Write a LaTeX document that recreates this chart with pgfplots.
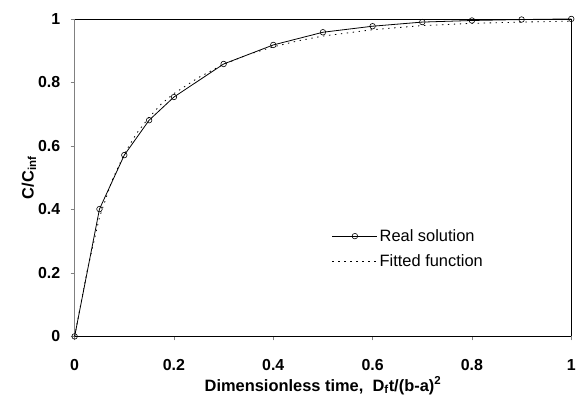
\documentclass[border=0pt]{standalone}
\usepackage{pgfplots}
\pgfplotsset{compat=1.18}
\usepackage{fontspec}
\setmainfont{Liberation Sans}
\begin{document}
\begin{tikzpicture}
\begin{axis}[
    scale only axis,
    width=499pt, height=319pt,
    xmin=0, xmax=1, ymin=0, ymax=1,
    axis x line*=bottom, axis y line*=left,
    x axis line style={black, line width=0.8pt, -},
    y axis line style={gray, line width=0.8pt, -},
    tick align=outside,
    major tick length=4pt,
    xtick={0,0.2,...,1}, ytick={0,0.2,...,1},
    tick style={gray, line width=0.6pt},
    xticklabels={0,0.2,0.4,0.6,0.8,1},
    yticklabels={0,0.2,0.4,0.6,0.8,1},
    ticklabel style={font=\fontsize{16}{18}\selectfont\bfseries},
    xticklabel style={yshift=-16pt},
    yticklabel style={xshift=-7pt},
    xlabel={\textbf{Dimensionless time,\ \ D\textsubscript{f}t/(b-a)\textsuperscript{2}}},
    ylabel={\textbf{C/C\textsubscript{inf}}},
    label style={font=\fontsize{16.5}{18}\selectfont},
    xlabel style={yshift=1pt},
    ylabel style={yshift=-5pt},
    legend style={draw=none, fill=none, at={(0.512,0.35)}, anchor=north west,
        font=\fontsize{16.5}{18}\selectfont, row sep=8pt,
        legend cell align=left},
    legend image code/.code={
        \draw[mark repeat=2, mark phase=2, #1] plot coordinates {(0pt,0pt) (22.5pt,0pt) (45pt,0pt)};},
    clip=false,
]
\coordinate (O) at (rel axis cs:0,0);
\addplot[black, line width=0.8pt, mark=o, mark size=2.8pt,
    mark options={fill=white, line width=0.6pt, solid}] coordinates {
    (0,0) (0.05,0.401) (0.1,0.571) (0.15,0.681) (0.2,0.754)
    (0.3,0.858) (0.4,0.918) (0.5,0.958) (0.6,0.977) (0.7,0.990)
    (0.8,0.995) (0.9,0.998) (1.0,1.0)
};
\addlegendentry{Real solution}
\addplot[black, line width=0.8pt, dash pattern=on 1.4pt off 4.6pt] coordinates {
    (0,0) (0.025,0.205) (0.05,0.375) (0.075,0.49) (0.1,0.575) (0.125,0.64)
    (0.15,0.69) (0.175,0.733) (0.2,0.765) (0.25,0.816) (0.3,0.857)
    (0.35,0.888) (0.4,0.912) (0.45,0.931) (0.5,0.946) (0.6,0.966)
    (0.7,0.979) (0.8,0.986) (0.9,0.990) (1.0,0.993)
};
\addlegendentry{Fitted function}
\draw[black, line width=0.8pt] (rel axis cs:0,1) -- (rel axis cs:1,1) -- (rel axis cs:1,0);
\end{axis}
\path (O) ++(-75pt,-64pt) rectangle ++(579pt,402pt);
\end{tikzpicture}
\end{document}
